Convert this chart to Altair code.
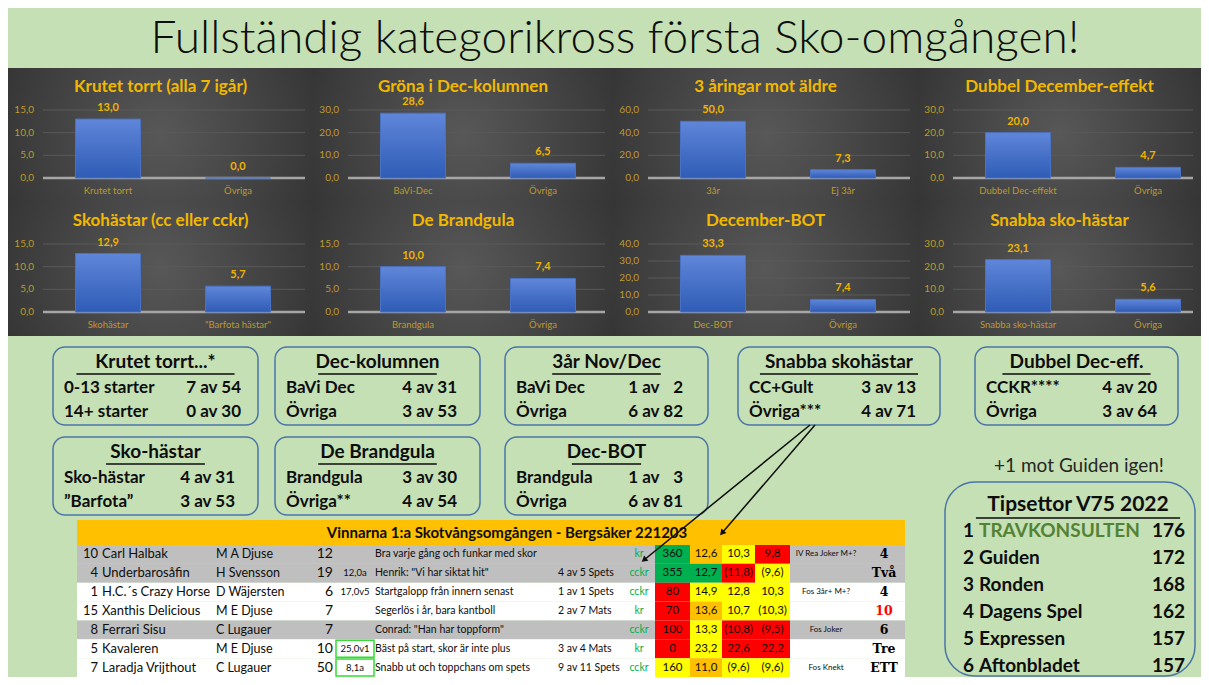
import altair as alt
import pandas as pd

# ---------------- data ----------------
main_title = "Fullständig kategorikross första Sko-omgången!"

panel_titles = ["Krutet torrt (alla 7 igår)", "Gröna i Dec-kolumnen", "3 åringar mot äldre",
                "Dubbel December-effekt", "Skohästar (cc eller cckr)", "De Brandgula",
                "December-BOT", "Snabba sko-hästar"]
panel_cats = [["Krutet torrt", "Övriga"], ["BaVi-Dec", "Övriga"], ["3år", "Ej 3år"],
              ["Dubbel Dec-effekt", "Övriga"], ["Skohästar", "\"Barfota hästar\""],
              ["Brandgula", "Övriga"], ["Dec-BOT", "Övriga"], ["Snabba sko-hästar", "Övriga"]]
panel_values = [[13.0, 0.0], [28.6, 6.5], [50.0, 7.3], [20.0, 4.7],
                [12.9, 5.7], [10.0, 7.4], [33.3, 7.4], [23.1, 5.6]]
panel_ticks = [[0, 5, 10, 15], [0, 10, 20, 30], [0, 20, 40, 60], [0, 10, 20, 30],
               [0, 5, 10, 15], [0, 5, 10, 15], [0, 10, 20, 30, 40], [0, 10, 20, 30]]

box_titles = ["Krutet torrt...*", "Dec-kolumnen", "3år Nov/Dec", "Snabba skohästar",
              "Dubbel Dec-eff.", "Sko-hästar", "De Brandgula", "Dec-BOT"]
box_labels = [["0-13 starter", "14+ starter"], ["BaVi Dec", "Övriga"], ["BaVi Dec", "Övriga"],
              ["CC+Gult", "Övriga***"], ["CCKR****", "Övriga"], ["Sko-hästar", "\u201dBarfota\u201d"],
              ["Brandgula", "Övriga**"], ["Brandgula", "Övriga"]]
box_hits = [[7, 0], [4, 3], [1, 6], [3, 4], [4, 3], [4, 3], [3, 4], [1, 6]]
box_totals = [[54, 30], [31, 53], [2, 82], [13, 71], [20, 64], [31, 53], [30, 54], [3, 81]]

tbl_header = "Vinnarna 1:a Skotvångsomgången - Bergsåker 221203"
tbl_nums = ["10", "4", "1", "15", "8", "5", "7"]
tbl_names = ["Carl Halbak", "Underbarosåfin", "H.C.´s Crazy Horse", "Xanthis Delicious",
             "Ferrari Sisu", "Kavaleren", "Laradja Vrijthout"]
tbl_drivers = ["M A Djuse", "H Svensson", "D Wäjersten", "M E Djuse", "C Lugauer", "M E Djuse", "C Lugauer"]
tbl_odds = ["12", "19", "6", "7", "7", "10", "50"]
tbl_small = ["", "12,0a", "17,0v5", "", "", "25,0v1", "8,1a"]
tbl_comments = ["Bra varje gång och funkar med skor", "Henrik: \"Vi har siktat hit\"",
                "Startgalopp från innern senast", "Segerlös i år, bara kantboll",
                "Conrad: \"Han har toppform\"", "Bäst på start, skor är inte plus",
                "Snabb ut och toppchans om spets"]
tbl_stats = ["", "4 av 5 Spets", "1 av 1 Spets", "2 av 7 Mats", "", "3 av 4 Mats", "9 av 11 Spets"]
tbl_type = ["kr", "cckr", "cckr", "kr", "cckr", "kr", "cckr"]
tbl_a = ["360", "355", "80", "70", "100", "0", "160"]
tbl_b = ["12,6", "12,7", "14,9", "13,6", "13,3", "23,2", "11,0"]
tbl_c = ["10,3", "(11,8)", "12,8", "10,7", "(10,8)", "22,6", "(9,6)"]
tbl_d = ["9,8", "(9,6)", "10,3", "(10,3)", "(9,5)", "22,2", "(9,6)"]
tbl_a_col = ["G", "G", "R", "R", "R", "R", "Y"]
tbl_b_col = ["O", "G", "Y", "O", "Y", "Y", "O"]
tbl_c_col = ["Y", "R", "Y", "Y", "R", "R", "Y"]
tbl_d_col = ["R", "Y", "Y", "Y", "R", "R", "Y"]
tbl_notes = ["IV Rea Joker M+?", "", "Fos 3år+ M+?", "", "Fos Joker", "", "Fos Knekt"]
tbl_marks = ["4", "Två", "4", "10", "6", "Tre", "ETT"]
tbl_mark_col = ["K", "K", "K", "R", "K", "K", "K"]
tbl_shade = ["gray", "gray", "white", "white", "gray", "white", "white"]
tbl_boxed = [False, False, False, False, False, True, True]

tips_title = "Tipsettor V75 2022"
tips_names = ["TRAVKONSULTEN", "Guiden", "Ronden", "Dagens Spel", "Expressen", "Aftonbladet"]
tips_scores = [176, 172, 168, 162, 157, 157]
guide_note = "+1 mot Guiden igen!"

# ---------------- style / layout ----------------
W, H = 1193, 669
BG = "#c5e0b4"
FONT = "Lato"
INK = "#0d0d0d"
GOLD_T = "#f2b800"
GOLD_V = "#f0b400"
GOLD_A = "#bf9a2c"
BOX_STROKE = "#4a74a8"
CELL = {"G": "#00b050", "R": "#ff0000", "Y": "#ffff00", "O": "#ffc000",
        "gray": "#bfbfbf", "white": "#ffffff", "K": "#000000"}

PANEL_X = [0, 305, 605, 910]
PANEL_W = [305, 300, 305, 283]
PANEL_Y = [60, 194]
PANEL_H = 134
Y0, YT = 110, 42

BOX_POS = [(45, 339, 205), (267, 339, 205), (497, 339, 203), (730, 339, 202),
           (967, 339, 203), (45, 429, 205), (267, 429, 205), (497, 429, 203)]
BOX_VAL_X = [188, 182, 178, 178, 182, 182, 182, 178]
BOX_H = 78
TABLE_X, TABLE_Y, TABLE_W, TABLE_H = 69, 512, 828, 157
TIPS_X, TIPS_Y, TIPS_W, TIPS_H = 937, 474, 250, 194

radial = alt.RadialGradient(gradient="radial",
                            stops=[alt.GradientStop(color="#585858", offset=0),
                                   alt.GradientStop(color="#3c3c3c", offset=0.6),
                                   alt.GradientStop(color="#282828", offset=1)],
                            x1=0.5, y1=0.5, r1=0, x2=0.5, y2=0.5, r2=0.75)
bar_grad = alt.LinearGradient(gradient="linear",
                              stops=[alt.GradientStop(color="#5f86d9", offset=0),
                                     alt.GradientStop(color="#2f5cb6", offset=1)],
                              x1=0, x2=0, y1=0, y2=1)

V = alt.value


def fmt1(v):
    return f"{v:.1f}".replace(".", ",")


def one(**kw):
    return pd.DataFrame({k: [v] for k, v in kw.items()})


def bar_panel(i):
    ox, oy, w = PANEL_X[i % 4], PANEL_Y[i // 4], PANEL_W[i % 4]
    cats, vals, ticks = panel_cats[i], panel_values[i], panel_ticks[i]
    d = pd.DataFrame({"cat": cats, "val": vals, "lab": [fmt1(v) for v in vals]})
    t = pd.DataFrame({"tick": ticks, "lab": [fmt1(v) for v in ticks]})
    ys = alt.Scale(domain=[0, ticks[-1]], range=[oy + Y0, oy + YT], nice=False, zero=False)
    xs = alt.Scale(type="point", domain=cats, range=[ox + 100, ox + 230], padding=0)
    Y = lambda f: alt.Y(f, scale=ys, axis=None)
    X = alt.X("cat:N", scale=xs, axis=None)
    out = [
        alt.Chart(one(s=0)).mark_rect(fill=radial).encode(
            x=V(ox), x2=V(ox + w), y=V(oy), y2=V(oy + PANEL_H)),
        alt.Chart(t).mark_rule(color="#5a5a5a", strokeWidth=1).encode(
            y=Y("tick:Q"), x=V(ox + 35), x2=V(ox + w - 8)),
        alt.Chart(t).transform_filter("datum.tick == 0").mark_rule(
            color="#a6a6a6", strokeWidth=2.5).encode(y=Y("tick:Q"), x=V(ox + 35), x2=V(ox + w - 8)),
        alt.Chart(t).mark_text(align="right", baseline="middle", font=FONT, fontSize=10,
                               color=GOLD_A).encode(y=Y("tick:Q"), x=V(ox + 26), text="lab:N"),
        alt.Chart(d).mark_bar(size=65, fill=bar_grad, stroke="#4a72c4", strokeWidth=1).encode(
            x=X, y=Y("val:Q"), y2=alt.Y2(datum=0)),
        alt.Chart(d).mark_text(baseline="middle", dy=-11, font=FONT, fontSize=11,
                               fontWeight="bold", color=GOLD_V).encode(x=X, y=Y("val:Q"), text="lab:N"),
        alt.Chart(d).mark_text(baseline="middle", font=FONT, fontSize=9.5, color=GOLD_A).encode(
            x=X, y=V(oy + 123), text="cat:N"),
        alt.Chart(one(t=panel_titles[i])).mark_text(
            baseline="middle", font=FONT, fontSize=17, fontWeight="bold", color=GOLD_T).encode(
            x=V(ox + w / 2), y=V(oy + 19), text="t:N"),
    ]
    return out


def pad2(n):
    s = str(n)
    return ("\u2007" + s) if len(s) < 2 else s


def text_box(i):
    ox, oy, w = BOX_POS[i]
    title = box_titles[i]
    rows = pd.DataFrame({"r": [0, 1], "label": box_labels[i],
                         "val": [f"{a} av {pad2(b)}" for a, b in zip(box_hits[i], box_totals[i])]})
    ys = alt.Scale(type="point", domain=[0, 1], range=[oy + 41, oy + 65], padding=0)
    Y = alt.Y("r:O", scale=ys, axis=None)
    fs = 19
    uw = len(title) * 0.52 * fs
    return [
        alt.Chart(one(s=0)).mark_rect(cornerRadius=12, fill=BG, stroke=BOX_STROKE, strokeWidth=1.5).encode(
            x=V(ox), x2=V(ox + w), y=V(oy), y2=V(oy + BOX_H)),
        alt.Chart(one(t=title)).mark_text(baseline="middle", font=FONT, fontSize=fs,
                                          fontWeight="bold", color=INK).encode(
            x=V(ox + w / 2), y=V(oy + 15), text="t:N"),
        alt.Chart(one(s=0)).mark_rule(color=INK, strokeWidth=1.6).encode(
            x=V(ox + w / 2 - uw / 2), x2=V(ox + w / 2 + uw / 2), y=V(oy + 27)),
        alt.Chart(rows).mark_text(align="left", baseline="middle", font=FONT, fontSize=17,
                                  fontWeight="bold", color=INK).encode(
            x=V(ox + 11), y=Y, text="label:N"),
        alt.Chart(rows).mark_text(align="right", baseline="middle", font=FONT, fontSize=17,
                                  fontWeight="bold", color=INK).encode(
            x=V(ox + BOX_VAL_X[i]), y=Y, text="val:N"),
    ]


def tips_box():
    ox, oy, w, h = TIPS_X, TIPS_Y, TIPS_W, TIPS_H
    d = pd.DataFrame({"r": list(range(6)), "rank": [str(k + 1) for k in range(6)],
                      "name": tips_names, "score": [str(s) for s in tips_scores],
                      "col": ["#548235"] + [INK] * 5})
    ys = alt.Scale(type="point", domain=list(range(6)), range=[oy + 49, oy + 184], padding=0)
    Y = alt.Y("r:O", scale=ys, axis=None)
    fs = 19
    cx = ox + 133
    uw = len(tips_title) * 0.54 * 21
    return [
        alt.Chart(one(s=0)).mark_rect(cornerRadius=30, fill=BG, stroke=BOX_STROKE, strokeWidth=1.5).encode(
            x=V(ox), x2=V(ox + w), y=V(oy), y2=V(oy + h)),
        alt.Chart(one(t=tips_title)).mark_text(baseline="middle", font=FONT, fontSize=21,
                                               fontWeight="bold", color=INK).encode(
            x=V(cx), y=V(oy + 23), text="t:N"),
        alt.Chart(one(s=0)).mark_rule(color=INK, strokeWidth=1.6).encode(
            x=V(cx - uw / 2), x2=V(cx + uw / 2), y=V(oy + 36)),
        alt.Chart(d).mark_text(align="left", baseline="middle", font=FONT, fontSize=fs,
                               fontWeight="bold", color=INK).encode(x=V(ox + 18), y=Y, text="rank:N"),
        alt.Chart(d).mark_text(align="left", baseline="middle", font=FONT, fontSize=fs,
                               fontWeight="bold").encode(
            x=V(ox + 34), y=Y, text="name:N", color=alt.Color("col:N", scale=None)),
        alt.Chart(d).mark_text(align="right", baseline="middle", font=FONT, fontSize=fs,
                               fontWeight="bold", color=INK).encode(x=V(ox + 240), y=Y, text="score:N"),
    ]


def table_chart():
    ox, oy, w, h = TABLE_X, TABLE_Y, TABLE_W, TABLE_H
    n = len(tbl_names)
    base = pd.DataFrame({
        "r": list(range(n)), "num": tbl_nums, "name": tbl_names, "driver": tbl_drivers,
        "odds": tbl_odds, "small": tbl_small, "comment": tbl_comments, "stats": tbl_stats,
        "type": tbl_type, "note": tbl_notes, "mark": tbl_marks,
        "markc": [CELL[c] for c in tbl_mark_col], "shade": [CELL[c] for c in tbl_shade],
        "boxed": tbl_boxed})
    ys = alt.Scale(domain=[-0.5, n - 0.5], range=[oy + 25, oy + h], nice=False, zero=False)
    Y = alt.Y("r:Q", scale=ys, axis=None)
    Yr = alt.Y("r0:Q", scale=ys, axis=None)
    calc = dict(r0="datum.r - 0.5", r1="datum.r + 0.5")
    layers = [
        alt.Chart(one(t=tbl_header)).mark_rect(fill="#ffc000").encode(
            x=V(ox), x2=V(ox + w), y=V(oy), y2=V(oy + 25)),
        alt.Chart(one(t=tbl_header)).mark_text(baseline="middle", font=FONT, fontSize=15,
                                               fontWeight="bold", color=INK).encode(
            x=V(ox + 430), y=V(oy + 13), text="t:N"),
        alt.Chart(base).transform_calculate(**calc).mark_rect().encode(
            x=V(ox), x2=V(ox + w), y=Yr, y2="r1:Q", fill=alt.Fill("shade:N", scale=None)),
    ]
    for vals, cols, x0, x1 in [(tbl_a, tbl_a_col, 578, 613), (tbl_b, tbl_b_col, 613, 645),
                               (tbl_c, tbl_c_col, 645, 678), (tbl_d, tbl_d_col, 678, 713)]:
        cd = pd.DataFrame({"r": list(range(n)), "t": vals, "f": [CELL[c] for c in cols]})
        layers.append(alt.Chart(cd).transform_calculate(**calc).mark_rect().encode(
            x=V(ox + x0), x2=V(ox + x1), y=Yr, y2="r1:Q", fill=alt.Fill("f:N", scale=None)))
        layers.append(alt.Chart(cd).mark_text(baseline="middle", font=FONT, fontSize=11.5, color=INK).encode(
            x=V(ox + (x0 + x1) / 2), y=Y, text="t:N"))
    layers.append(alt.Chart(base).transform_filter("datum.boxed").transform_calculate(
        r0="datum.r - 0.45", r1="datum.r + 0.45").mark_rect(
        fill="transparent", stroke="#33dd33", strokeWidth=1.5).encode(
        x=V(ox + 259), x2=V(ox + 297), y=Yr, y2="r1:Q"))
    specs = [("num", 21, "right", 13, INK, FONT),
             ("name", 25, "left", 13, INK, FONT),
             ("driver", 139, "left", 12.5, INK, FONT),
             ("odds", 256, "right", 14, INK, FONT),
             ("small", 278, "center", 9.5, INK, FONT),
             ("comment", 298, "left", 10.5, INK, FONT),
             ("stats", 481, "left", 10.5, INK, FONT),
             ("type", 562, "center", 10.5, "#00b050", FONT),
             ("note", 749, "center", 8, INK, FONT)]
    for field, x, align, fs, col, font in specs:
        layers.append(alt.Chart(base).mark_text(align=align, baseline="middle", font=font, fontSize=fs,
                                                color=col).encode(x=V(ox + x), y=Y, text=f"{field}:N"))
    layers.append(alt.Chart(base).mark_text(baseline="middle", font="DejaVu Serif", fontSize=12.5,
                                            fontWeight="bold").encode(
        x=V(ox + 807), y=Y, text="mark:N", color=alt.Color("markc:N", scale=None)))
    return layers


def arrows():
    out = []
    for (xa, ya, xb, yb, ang) in [(802, 417, 636, 552, 231), (807, 417, 714, 525, 221)]:
        out.append(alt.Chart(one(s=0)).mark_rule(color=INK, strokeWidth=1.5).encode(
            x=V(xa), y=V(ya), x2=V(xb), y2=V(yb)))
        out.append(alt.Chart(one(s=0)).mark_point(shape="triangle-up", filled=True, color=INK,
                                                  size=45, angle=ang, opacity=1).encode(
            x=V(xb), y=V(yb)))
    return out


# ---------------- assemble ----------------
layers = [alt.Chart(one(t=main_title)).mark_text(
    baseline="middle", font=FONT, fontSize=46, fontWeight=300, color=INK).encode(
    x=V(607), y=V(31), text="t:N")]
for i in range(8):
    layers += bar_panel(i)
for i in range(8):
    layers += text_box(i)
layers += table_chart()
layers += tips_box()
layers.append(alt.Chart(one(t=guide_note)).mark_text(baseline="middle", font=FONT, fontSize=19,
                                                     color="#262626").encode(
    x=V(1071), y=V(458), text="t:N"))
layers += arrows()

chart = alt.layer(*layers).resolve_scale(x="independent", y="independent").properties(
    width=W, height=H, background=BG, padding=0,
    view=alt.ViewBackground(stroke="transparent"))

chart.save("out.html", embed_options={"renderer": "svg", "actions": False})
